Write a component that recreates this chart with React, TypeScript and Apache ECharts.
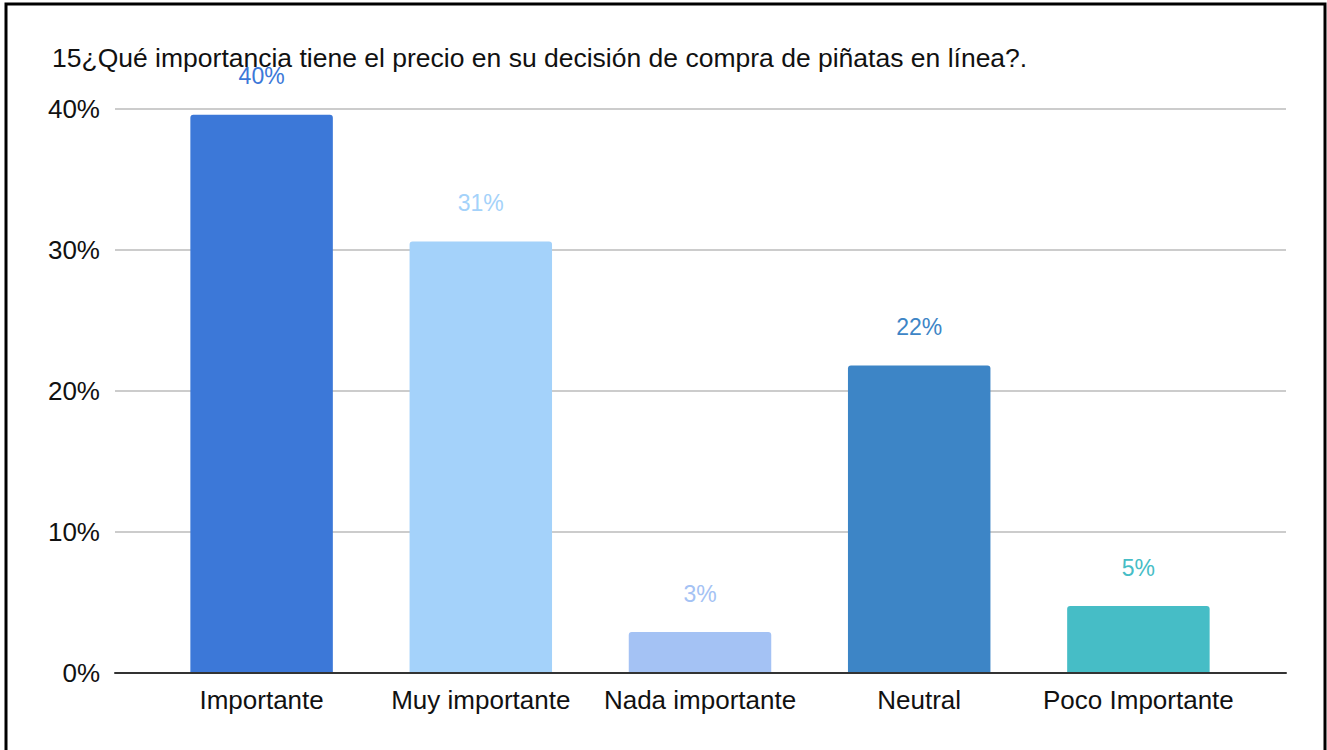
import React, { useEffect, useRef } from "react";
import * as echarts from "echarts";

const TITLE = "15¿Qué importancia tiene el precio en su decisión de compra de piñatas en línea?.";
const categories = ["Importante", "Muy importante", "Nada importante", "Neutral", "Poco Importante"];
const values = [39.6, 30.6, 2.9, 21.8, 4.75];
const barColors = ["#3c78d8", "#a4d2fa", "#a4c2f4", "#3d85c6", "#46bdc6"];
const yTicks = { min: 0, max: 40, interval: 10 };

const FONT = "'Liberation Sans', Arial, sans-serif";

export default function App() {
  const ref = useRef<HTMLDivElement>(null);
  useEffect(() => {
    if (!ref.current) return;
    const chart = echarts.init(ref.current, null, { renderer: "svg" });
    chart.setOption({
      animation: false,
      backgroundColor: "#ffffff",
      textStyle: { fontFamily: FONT },
      title: {
        text: TITLE,
        left: 47,
        top: 39,
        textStyle: { fontFamily: FONT, fontSize: 26.5, fontWeight: "normal", color: "#111" },
      },
      graphic: [
        {
          type: "rect",
          shape: { x: 6, y: 4, width: 1319, height: 800 },
          style: { fill: "none", stroke: "#000", lineWidth: 3 },
          silent: true,
          z: 100,
        },
      ],
      grid: [
        { left: 115, right: 41, top: 109, bottom: 77 },
        { left: 152, right: 79, top: 109, bottom: 77 },
      ],
      xAxis: [
        {
          gridIndex: 0,
          type: "category",
          data: categories,
          axisLabel: { show: false },
          axisTick: { show: false },
          axisLine: { show: true, lineStyle: { color: "#333", width: 2 } },
          z: 5,
        },
        {
          gridIndex: 1,
          type: "category",
          data: categories,
          axisLabel: { interval: 0, fontFamily: FONT, fontSize: 26, color: "#111", margin: 14 },
          axisTick: { show: false },
          axisLine: { show: false },
        },
      ],
      yAxis: [
        {
          gridIndex: 0,
          type: "value",
          min: yTicks.min,
          max: yTicks.max,
          interval: yTicks.interval,
          axisLabel: { formatter: "{value}%", fontFamily: FONT, fontSize: 26, color: "#111", margin: 15 },
          axisLine: { show: false },
          axisTick: { show: false },
          splitLine: { lineStyle: { color: "#cccccc", width: 2 } },
        },
        {
          gridIndex: 1,
          type: "value",
          min: yTicks.min,
          max: yTicks.max,
          interval: yTicks.interval,
          show: false,
        },
      ],
      series: [
        {
          type: "bar",
          xAxisIndex: 1,
          yAxisIndex: 1,
          barWidth: "65%",
          data: values.map((v, i) => ({
            value: v,
            itemStyle: { color: barColors[i], borderRadius: [3, 3, 0, 0] },
            label: { color: barColors[i] },
          })),
          label: {
            show: true,
            position: "top",
            distance: 27,
            fontFamily: FONT,
            fontSize: 23,
            formatter: (p: any) => Math.round(p.value) + "%",
          },
          z: 3,
        },
      ],
    });
    return () => chart.dispose();
  }, []);
  return (
    <div
      ref={ref}
      style={{ position: "absolute", left: 0, top: 0, width: 1327, height: 750 }}
    />
  );
}
